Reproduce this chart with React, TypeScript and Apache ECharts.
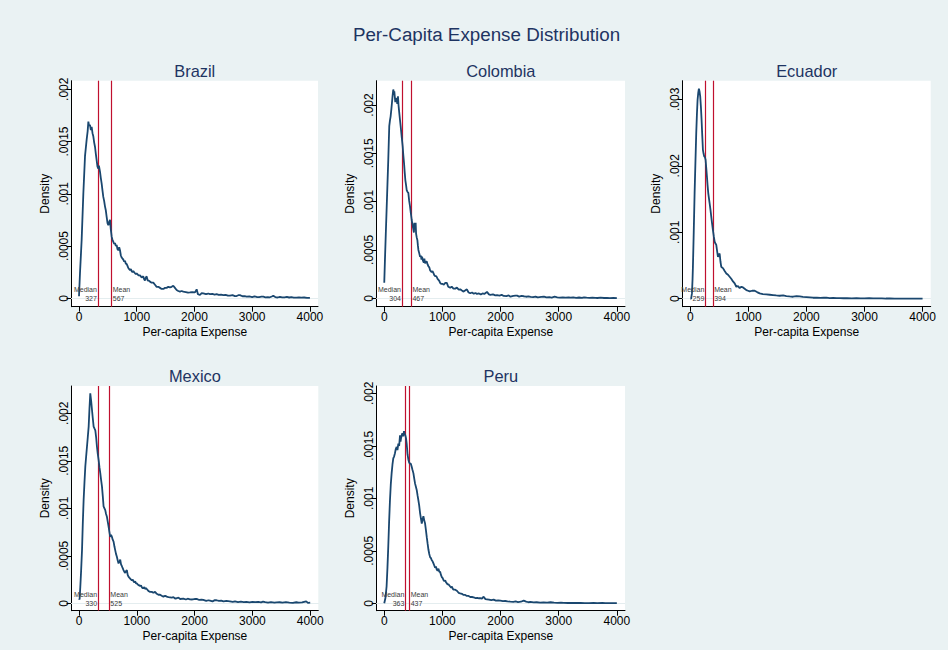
import React, { useEffect, useRef } from "react";
import * as echarts from "echarts";

const FONT = '"Liberation Sans", Arial, Helvetica, sans-serif';

const mainTitle = "Per-Capita Expense Distribution";
const xTitle = "Per-capita Expense";
const yTitle = "Density";
const countries = ["Brazil", "Colombia", "Ecuador", "Mexico", "Peru"];
const medians = [327, 304, 259, 330, 363];
const means = [567, 467, 394, 525, 437];
const xTicks = [0, 1000, 2000, 3000, 4000];
const yTicksA = [0, 0.0005, 0.001, 0.0015, 0.002];
const yTicksB = [0, 0.001, 0.002, 0.003];

const brazil: [number, number][] = [
  [0, 0.00002], [17, 0.00024], [46, 0.00056], [75, 0.001], [104, 0.00136], [133, 0.00152], [150, 0.0016], [162, 0.00169], [175, 0.00165], [190, 0.00166], [205, 0.00161], [219, 0.00164], [234, 0.00158], [248, 0.00155], [263, 0.00149], [277, 0.00145], [292, 0.00138], [306, 0.00132], [320, 0.00126], [335, 0.00124], [345, 0.00127], [364, 0.00121], [378, 0.00115], [392, 0.0011], [407, 0.00103], [421, 0.00097], [436, 0.00093], [450, 0.00088], [465, 0.00084], [479, 0.00078], [494, 0.00072], [508, 0.0007], [522, 0.00073], [537, 0.00075], [551, 0.00066], [566, 0.00059], [580, 0.00056], [595, 0.00054], [610, 0.00052], [624, 0.00053], [638, 0.0005], [652, 0.00051], [667, 0.00047], [681, 0.00046], [696, 0.00049], [710, 0.00046], [725, 0.00041], [740, 0.00039], [754, 0.00038], [768, 0.00037], [783, 0.00035], [797, 0.00036], [811, 0.00033], [825, 0.00033], [840, 0.00031], [854, 0.00029], [869, 0.00028], [883, 0.00027], [898, 0.00028], [912, 0.00026], [927, 0.00025], [941, 0.00026], [956, 0.00025], [970, 0.00024], [985, 0.00023], [998, 0.00024], [1015, 0.00023], [1030, 0.00022], [1056, 0.00022], [1085, 0.0002], [1114, 0.00021], [1130, 0.00018], [1143, 0.00017], [1158, 0.0002], [1172, 0.00021], [1190, 0.00017], [1210, 0.00017], [1229, 0.00016], [1258, 0.00015], [1287, 0.00015], [1316, 0.00013], [1345, 0.00011], [1374, 0.00011], [1403, 0.0001], [1432, 0.00009], [1460, 0.00009], [1490, 0.0001], [1518, 0.0001], [1547, 0.00011], [1576, 0.000105], [1605, 0.00011], [1633, 0.00012], [1662, 0.0001], [1691, 0.00008], [1720, 0.00007], [1749, 0.000064], [1778, 0.00007], [1807, 0.000064], [1850, 0.00006], [1890, 0.000055], [1922, 0.000057], [1960, 0.00006], [2009, 0.000057], [2038, 0.000086], [2060, 0.00004], [2095, 0.000032], [2125, 0.00005], [2153, 0.000048], [2200, 0.00004], [2240, 0.000046], [2269, 0.00004], [2310, 0.000042], [2350, 0.000036], [2384, 0.00004], [2420, 0.000033], [2460, 0.000035], [2500, 0.00003], [2540, 0.000034], [2580, 0.000026], [2615, 0.000025], [2660, 0.00003], [2700, 0.000022], [2730, 0.000022], [2760, 0.00003], [2788, 0.00003], [2830, 0.00002], [2870, 0.000022], [2903, 0.000016], [2950, 0.000018], [3000, 0.000012], [3040, 0.000018], [3077, 0.000013], [3120, 0.000012], [3160, 0.000016], [3192, 0.000016], [3230, 0.00001], [3270, 0.000012], [3307, 0.00001], [3340, 0.000018], [3365, 0.000025], [3400, 0.000012], [3440, 0.000008], [3480, 0.000014], [3520, 0.00001], [3560, 0.000009], [3600, 0.000013], [3640, 0.000008], [3680, 0.000012], [3720, 0.000007], [3769, 0.000006], [3810, 0.00001], [3850, 0.000006], [3900, 0.000008], [3950, 0.000004], [4000, 0.000004],
];

const colombia: [number, number][] = [
  [0, 0.00016], [12, 0.0004], [26, 0.00066], [40, 0.00091], [55, 0.00118], [69, 0.00143], [78, 0.00162], [86, 0.00178], [98, 0.00184], [109, 0.00188], [121, 0.00195], [132, 0.00202], [144, 0.0021], [155, 0.00216], [164, 0.00213], [173, 0.00214], [182, 0.00208], [190, 0.00203], [201, 0.00206], [213, 0.00207], [224, 0.00201], [236, 0.00209], [245, 0.002], [253, 0.00195], [268, 0.00186], [282, 0.00178], [300, 0.00167], [317, 0.00157], [328, 0.00148], [340, 0.0014], [352, 0.0013], [363, 0.00122], [375, 0.00117], [386, 0.00112], [400, 0.0011], [414, 0.00109], [428, 0.00101], [443, 0.00095], [457, 0.00088], [472, 0.00081], [486, 0.00076], [501, 0.00071], [510, 0.00068], [518, 0.00078], [530, 0.00072], [540, 0.00078], [547, 0.00067], [558, 0.00063], [570, 0.0006], [578, 0.00055], [587, 0.0005], [600, 0.00047], [616, 0.00043], [630, 0.00044], [640, 0.0004], [650, 0.00043], [665, 0.00039], [680, 0.00037], [690, 0.00041], [702, 0.00036], [716, 0.00038], [731, 0.00038], [745, 0.00035], [760, 0.00033], [775, 0.00032], [788, 0.00029], [800, 0.00028], [815, 0.00027], [830, 0.00028], [846, 0.00026], [860, 0.00024], [875, 0.00023], [890, 0.00023], [903, 0.00022], [917, 0.0002], [932, 0.00019], [946, 0.00018], [961, 0.00016], [975, 0.00015], [990, 0.00015], [1005, 0.00015], [1019, 0.00014], [1035, 0.00015], [1050, 0.00016], [1076, 0.00016], [1100, 0.00012], [1134, 0.00011], [1160, 0.00012], [1190, 0.0001], [1220, 0.0001], [1250, 0.00011], [1280, 0.00009], [1306, 0.000093], [1335, 0.00008], [1364, 0.000069], [1390, 0.00008], [1421, 0.000093], [1450, 0.00006], [1479, 0.000052], [1510, 0.00006], [1540, 0.000048], [1570, 0.000055], [1594, 0.000045], [1630, 0.00005], [1660, 0.00004], [1690, 0.00005], [1720, 0.000045], [1766, 0.000066], [1800, 0.00004], [1824, 0.000035], [1870, 0.00004], [1910, 0.00003], [1940, 0.000032], [1980, 0.000028], [2020, 0.000035], [2055, 0.000024], [2100, 0.000022], [2140, 0.00003], [2170, 0.000017], [2220, 0.000025], [2260, 0.000028], [2285, 0.000027], [2320, 0.000018], [2360, 0.000024], [2400, 0.000021], [2440, 0.000016], [2480, 0.00002], [2516, 0.000014], [2560, 0.000012], [2600, 0.000018], [2640, 0.00001], [2700, 0.000014], [2746, 0.000017], [2790, 0.000009], [2840, 0.000012], [2880, 0.000008], [2930, 0.000016], [2976, 0.00001], [3020, 0.000007], [3070, 0.00001], [3120, 0.000006], [3170, 0.000009], [3206, 0.000006], [3250, 0.00001], [3300, 0.000005], [3350, 0.000008], [3400, 0.000004], [3436, 0.00001], [3480, 0.000006], [3530, 0.000004], [3580, 0.000007], [3630, 0.000005], [3665, 0.000003], [3720, 0.000006], [3780, 0.000003], [3830, 0.000005], [3880, 0.000002], [3940, 0.000003], [4000, 0.000001],
];

const ecuador: [number, number][] = [
  [0, 0], [15, 0], [29, 0.00008], [40, 0.0003], [46, 0.00048], [60, 0.001], [75, 0.00159], [89, 0.00205], [103, 0.00249], [115, 0.00278], [126, 0.00299], [138, 0.0031], [149, 0.00316], [160, 0.00312], [172, 0.00304], [184, 0.00288], [195, 0.00269], [207, 0.00245], [218, 0.00224], [230, 0.00218], [241, 0.00214], [252, 0.00213], [264, 0.00209], [276, 0.00196], [287, 0.00184], [298, 0.00171], [310, 0.00159], [322, 0.00151], [333, 0.00144], [348, 0.00134], [362, 0.00123], [376, 0.00113], [391, 0.00103], [405, 0.00094], [420, 0.00086], [434, 0.00083], [448, 0.00081], [462, 0.00072], [477, 0.00063], [491, 0.00066], [506, 0.00068], [520, 0.00056], [534, 0.00048], [548, 0.00047], [563, 0.00046], [590, 0.00042], [621, 0.00038], [650, 0.00036], [678, 0.00033], [706, 0.0003], [736, 0.00026], [765, 0.00023], [793, 0.00018], [822, 0.00019], [851, 0.00016], [880, 0.00018], [908, 0.00017], [937, 0.00015], [966, 0.00013], [995, 0.00012], [1023, 0.00011], [1066, 0.00012], [1109, 0.00012], [1150, 0.0001], [1195, 0.00008], [1250, 0.00007], [1310, 0.000065], [1370, 0.00006], [1425, 0.000055], [1480, 0.00005], [1540, 0.000045], [1600, 0.00005], [1655, 0.00004], [1710, 0.000035], [1770, 0.00003], [1830, 0.000038], [1885, 0.000035], [1940, 0.000028], [2000, 0.000025], [2060, 0.00002], [2115, 0.000015], [2180, 0.000018], [2240, 0.000014], [2300, 0.000016], [2345, 0.000015], [2400, 0.00001], [2460, 0.000012], [2520, 0.000008], [2575, 0.00001], [2640, 0.000007], [2700, 0.000009], [2780, 0.000005], [2862, 0.00001], [2930, 0.000005], [3000, 0.000004], [3080, 0.000007], [3149, 0.000005], [3230, 0.000004], [3300, 0.000006], [3370, 0.000003], [3437, 0.000003], [3520, 0.000002], [3600, 0.000002], [3700, 0.000001], [3800, 0.000001], [3900, 0.000001], [4000, 0.000001],
];

const mexico: [number, number][] = [
  [0, 0.00005], [10, 0.00004], [23, 0.00018], [37, 0.00035], [52, 0.00056], [66, 0.00085], [80, 0.00109], [95, 0.00128], [109, 0.00144], [124, 0.00155], [138, 0.00165], [152, 0.00175], [167, 0.00186], [181, 0.00205], [195, 0.00221], [210, 0.00213], [224, 0.00204], [238, 0.00195], [253, 0.00186], [267, 0.00184], [282, 0.00182], [296, 0.00175], [310, 0.00165], [325, 0.00157], [339, 0.00151], [354, 0.00143], [368, 0.00137], [382, 0.0013], [397, 0.00123], [411, 0.00113], [425, 0.00102], [440, 0.001], [454, 0.00098], [468, 0.00094], [483, 0.00091], [497, 0.00086], [511, 0.00081], [526, 0.00075], [540, 0.0007], [555, 0.00072], [569, 0.0007], [583, 0.00067], [598, 0.00065], [612, 0.0006], [626, 0.00056], [640, 0.00052], [655, 0.00049], [670, 0.00045], [684, 0.00042], [698, 0.00044], [713, 0.00046], [727, 0.00041], [742, 0.00039], [756, 0.00037], [770, 0.00035], [785, 0.00033], [799, 0.00032], [813, 0.00034], [828, 0.00035], [842, 0.0003], [856, 0.00028], [870, 0.00027], [885, 0.00026], [900, 0.00025], [914, 0.00024], [930, 0.00025], [943, 0.00023], [958, 0.00022], [972, 0.00023], [986, 0.00021], [1000, 0.00021], [1015, 0.0002], [1030, 0.00019], [1043, 0.00019], [1057, 0.00018], [1072, 0.00019], [1086, 0.00017], [1100, 0.00016], [1115, 0.00016], [1130, 0.00017], [1143, 0.00015], [1158, 0.00016], [1172, 0.00015], [1200, 0.00013], [1230, 0.00012], [1258, 0.00012], [1287, 0.00011], [1316, 0.00012], [1345, 0.0001], [1374, 0.00009], [1403, 0.00009], [1430, 0.00008], [1460, 0.00007], [1490, 0.00008], [1518, 0.00007], [1547, 0.000065], [1575, 0.000063], [1605, 0.00006], [1633, 0.000065], [1662, 0.00005], [1690, 0.000053], [1720, 0.00006], [1750, 0.000045], [1805, 0.00005], [1850, 0.00004], [1880, 0.000048], [1920, 0.000042], [1960, 0.00004], [2000, 0.000045], [2035, 0.000046], [2080, 0.000035], [2120, 0.000038], [2150, 0.000035], [2200, 0.000025], [2240, 0.000032], [2265, 0.000028], [2310, 0.00002], [2350, 0.000033], [2380, 0.000032], [2420, 0.000025], [2460, 0.000028], [2500, 0.00002], [2550, 0.000025], [2610, 0.000021], [2660, 0.000015], [2700, 0.00002], [2750, 0.000013], [2800, 0.000018], [2850, 0.000012], [2897, 0.000014], [2950, 0.00001], [3000, 0.000015], [3050, 0.000012], [3100, 0.000016], [3150, 0.00001], [3184, 0.000018], [3220, 0.000012], [3270, 0.000008], [3320, 0.000012], [3380, 0.000006], [3420, 0.00001], [3471, 0.000011], [3520, 0.000007], [3580, 0.000012], [3640, 0.000008], [3700, 0.000005], [3759, 0.000011], [3800, 0.000007], [3860, 0.000009], [3931, 0.000021], [3960, 0.000005], [4000, 0.000007],
];

const peru: [number, number][] = [
  [0, 0], [20, 0.00005], [40, 0.00016], [55, 0.00034], [69, 0.00054], [83, 0.00077], [98, 0.00098], [112, 0.00113], [127, 0.00124], [141, 0.00132], [155, 0.00138], [170, 0.0014], [184, 0.00143], [198, 0.00147], [213, 0.00149], [227, 0.00146], [242, 0.00152], [256, 0.0015], [271, 0.0016], [280, 0.00154], [288, 0.00157], [300, 0.0016], [311, 0.00162], [325, 0.00159], [340, 0.00164], [352, 0.00161], [363, 0.0016], [375, 0.00157], [386, 0.00152], [400, 0.00142], [414, 0.00137], [428, 0.00134], [443, 0.00133], [457, 0.00133], [472, 0.0013], [486, 0.00127], [501, 0.00124], [515, 0.00119], [530, 0.00114], [544, 0.00111], [558, 0.00108], [572, 0.00103], [587, 0.00098], [601, 0.00093], [616, 0.00086], [630, 0.00081], [645, 0.00076], [660, 0.0008], [673, 0.00083], [688, 0.00079], [702, 0.00076], [716, 0.0007], [731, 0.00063], [745, 0.00057], [760, 0.00051], [774, 0.00047], [788, 0.00044], [803, 0.00043], [817, 0.00041], [831, 0.0004], [846, 0.00038], [860, 0.00036], [874, 0.00034], [889, 0.00035], [903, 0.00032], [918, 0.00031], [932, 0.00033], [946, 0.0003], [961, 0.0003], [975, 0.00027], [990, 0.00025], [1005, 0.00024], [1019, 0.00022], [1034, 0.00021], [1048, 0.00022], [1062, 0.0002], [1076, 0.00019], [1090, 0.00018], [1105, 0.00018], [1120, 0.00017], [1134, 0.00016], [1150, 0.00015], [1163, 0.00016], [1177, 0.00014], [1191, 0.00013], [1220, 0.00013], [1249, 0.00012], [1278, 0.0001], [1306, 0.000095], [1335, 0.00009], [1364, 0.00008], [1393, 0.00008], [1421, 0.00007], [1450, 0.00007], [1480, 0.00006], [1510, 0.00006], [1537, 0.000057], [1565, 0.00005], [1600, 0.000052], [1630, 0.000048], [1652, 0.00005], [1680, 0.000045], [1709, 0.000063], [1740, 0.00004], [1766, 0.000038], [1800, 0.000035], [1840, 0.00003], [1881, 0.000035], [1920, 0.000025], [1960, 0.000028], [1996, 0.000026], [2040, 0.00002], [2080, 0.000022], [2120, 0.000018], [2168, 0.000016], [2220, 0.000014], [2260, 0.000018], [2300, 0.000012], [2350, 0.000015], [2398, 0.000025], [2440, 0.000016], [2480, 0.00001], [2513, 0.000013], [2570, 0.000008], [2620, 0.00001], [2680, 0.000006], [2740, 0.000008], [2801, 0.000006], [2860, 0.00001], [2920, 0.000006], [2980, 0.000004], [3040, 0.000006], [3088, 0.000005], [3160, 0.000003], [3240, 0.000005], [3300, 0.000003], [3376, 0.000003], [3450, 0.000002], [3520, 0.000002], [3600, 0.000003], [3664, 0.000002], [3750, 0.000005], [3800, 0.000002], [3900, 0.000001], [4000, 0.000001],
];

const densities = [brazil, colombia, ecuador, mexico, peru];
const yTickSets = [yTicksA, yTicksA, yTicksB, yTicksA, yTicksA];
const yRanges: [number, number][] = [
  [-0.00008, 0.002082],
  [-0.000087, 0.002251],
  [-0.00012, 0.00328],
  [-0.000078, 0.002287],
  [-0.0000705, 0.00207],
];

// plot-region layout (pixels)
const layouts = [
  { left: 71.5, top: 80.7, width: 246.5, height: 226, titleY: 70.5 },
  { left: 376.7, top: 80.7, width: 248.3, height: 226, titleY: 70.5 },
  { left: 682.7, top: 80.7, width: 248, height: 226, titleY: 70.5 },
  { left: 71.5, top: 386, width: 246.8, height: 224.7, titleY: 375.5 },
  { left: 376.7, top: 386, width: 248.3, height: 224.7, titleY: 375.5 },
];

const BG = "#EAF2F3";
const NAVY = "#1A476F";
const TITLE = "#1E3462";
const RED = "#C0102E";

function fmtY(v: number): string {
  if (v === 0) return "0";
  return String(v).replace(/^0/, "");
}

export default function App() {
  const ref = useRef<HTMLDivElement>(null);
  useEffect(() => {
    if (!ref.current) return;
    const chart = echarts.init(ref.current, undefined, { renderer: "svg" });
    const option: any = {
      animation: false,
      backgroundColor: BG,
      textStyle: { fontFamily: FONT },
      graphic: [
        {
          type: "text",
          x: 486.5,
          y: 34.8,
          style: {
            text: mainTitle,
            fill: TITLE,
            font: `18.8px ${FONT}`,
            align: "center",
            verticalAlign: "middle",
          },
        },
        ...countries.map((c, i) => ({
          type: "text",
          x: layouts[i].left + layouts[i].width / 2,
          y: layouts[i].titleY,
          style: {
            text: c,
            fill: TITLE,
            font: `16.4px ${FONT}`,
            align: "center",
            verticalAlign: "middle",
          },
        })),
      ],
      grid: layouts.map((l) => ({
        left: l.left,
        top: l.top,
        width: l.width,
        height: l.height,
        show: true,
        backgroundColor: "#FFFFFF",
        borderWidth: 0,
        containLabel: false,
      })),
      xAxis: layouts.map((_, i) => ({
        type: "value",
        gridIndex: i,
        min: -130,
        max: 4140,
        axisLine: { show: true, onZero: false, lineStyle: { color: "#000", width: 1 } },
        axisTick: { show: true, length: 5, customValues: xTicks, lineStyle: { color: "#000", width: 1 } },
        axisLabel: {
          customValues: xTicks,
          color: "#000",
          fontSize: 12,
          margin: 4,
          fontFamily: FONT,
          formatter: (v: number) => String(v),
          showMinLabel: true,
          showMaxLabel: true,
        },
        splitLine: { show: false },
        name: xTitle,
        nameLocation: "middle",
        nameGap: 19,
        nameTextStyle: { color: "#000", fontSize: 12, fontFamily: FONT },
      })),
      yAxis: layouts.map((_, i) => ({
        type: "value",
        gridIndex: i,
        min: yRanges[i][0],
        max: yRanges[i][1],
        axisLine: { show: true, onZero: false, lineStyle: { color: "#000", width: 1 } },
        axisTick: { show: true, length: 5, customValues: yTickSets[i], lineStyle: { color: "#000", width: 1 } },
        axisLabel: {
          customValues: yTickSets[i],
          rotate: 90,
          color: "#000",
          fontSize: 12,
          margin: 2,
          fontFamily: FONT,
          formatter: (v: number) => fmtY(v),
          showMinLabel: true,
          showMaxLabel: true,
        },
        splitLine: { show: false },
        name: yTitle,
        nameLocation: "middle",
        nameGap: 21,
        nameTextStyle: { color: "#000", fontSize: 12, fontFamily: FONT },
      })),
      series: layouts.map((_, i) => ({
        type: "line",
        xAxisIndex: i,
        yAxisIndex: i,
        data: densities[i],
        showSymbol: false,
        symbol: "none",
        silent: true,
        z: 3,
        lineStyle: { color: NAVY, width: 1.8 },
        markLine: {
          silent: true,
          z: 1,
          symbol: ["none", "none"],
          label: { show: false },
          animation: false,
          data: [
            ...yTickSets[i]
              .filter((v) => v > 0)
              .map((v) => ({ yAxis: v, lineStyle: { color: "#E4EDEF", width: 1.2, type: "solid" } })),
            { xAxis: medians[i], lineStyle: { color: RED, width: 1.2, type: "solid" } },
            { xAxis: means[i], lineStyle: { color: RED, width: 1.2, type: "solid" } },
          ],
        },
        markPoint: {
          silent: true,
          symbol: "circle",
          symbolSize: 0,
          animation: false,
          data: [
            {
              coord: [medians[i], 0],
              label: {
                show: true,
                position: "left",
                distance: 1,
                align: "right",
                offset: [0, -4.5],
                formatter: `Median\n${medians[i]}`,
                fontSize: 7,
                lineHeight: 9,
                color: "#3A3A3A",
                fontFamily: FONT,
              },
            },
            {
              coord: [means[i], 0],
              label: {
                show: true,
                position: "right",
                distance: 1,
                align: "left",
                offset: [0, -4.5],
                formatter: `Mean\n${means[i]}`,
                fontSize: 7,
                lineHeight: 9,
                color: "#3A3A3A",
                fontFamily: FONT,
              },
            },
          ],
        },
      })),
    };
    chart.setOption(option);
    return () => chart.dispose();
  }, []);
  return (
    <div
      ref={ref}
      style={{ position: "fixed", left: 0, top: 0, width: 948, height: 650 }}
    />
  );
}
